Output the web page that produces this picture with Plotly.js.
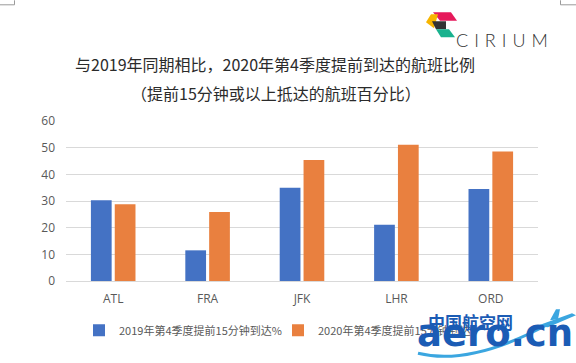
<!DOCTYPE html>
<html>
<head>
<meta charset="utf-8">
<script src="https://cdn.plot.ly/plotly-3.0.1.min.js"></script>
<style>html,body{margin:0;padding:0;background:#fff;}#chart{width:576px;height:363px;}</style>
</head>
<body>
<div id="chart"></div>
<script>
// ---- data ----
const airports = ['ATL', 'FRA', 'JFK', 'LHR', 'ORD'];
const series2019Name = '2019年第4季度提前15分钟到达%';
const series2020Name = '2020年第4季度提前15分钟到达%';
const early2019 = [30.3, 11.5, 35.0, 21.1, 34.5];
const early2020 = [28.8, 25.9, 45.4, 51.1, 48.6];
const yTicks = [0, 10, 20, 30, 40, 50, 60];
const titleLine1 = '与2019年同期相比，2020年第4季度提前到达的航班比例';
const titleLine2 = '（提前15分钟或以上抵达的航班百分比）';

// ---- layout helpers (pixel -> plot-fraction) ----
const W = 576, H = 363;
const L = 66, R = 538, T = 120.7, B = 280.7;
const X = px => (px - L) / (R - L);
const Y = py => (B - py) / (B - T);
function path(pts) {
  return 'M' + pts.map(p => X(p[0]).toFixed(5) + ',' + Y(p[1]).toFixed(5)).join(' L') + ' Z';
}

const traces = [
  {type: 'bar', name: series2019Name, x: airports, y: early2019,
   marker: {color: '#4472C4'}, hoverinfo: 'x+y'},
  {type: 'bar', name: series2020Name, x: airports, y: early2020,
   marker: {color: '#E9803F'}, hoverinfo: 'x+y'}
];

const cjk = '"Noto Sans CJK SC", "Noto Sans", sans-serif';
const shapes = [
  // crop marks
  {type: 'line', xref: 'paper', yref: 'paper', x0: X(0), x1: X(14.5), y0: Y(4.5), y1: Y(4.5), line: {color: '#9a9a9a', width: 1}},
  {type: 'line', xref: 'paper', yref: 'paper', x0: X(14.5), x1: X(14.5), y0: Y(0), y1: Y(4.5), line: {color: '#9a9a9a', width: 1}},
  {type: 'line', xref: 'paper', yref: 'paper', x0: X(560.5), x1: X(576), y0: Y(4.5), y1: Y(4.5), line: {color: '#9a9a9a', width: 1}},
  {type: 'line', xref: 'paper', yref: 'paper', x0: X(560.5), x1: X(560.5), y0: Y(0), y1: Y(4.5), line: {color: '#9a9a9a', width: 1}},
  // Cirium logo
  {type: 'path', xref: 'paper', yref: 'paper', path: path([[433,12],[451,12],[457,20.5],[440,20.5]]), fillcolor: '#E6195B', line: {width: 0}},
  {type: 'path', xref: 'paper', yref: 'paper', path: path([[431,14],[438,14],[434,28],[426,22]]), fillcolor: '#F7B500', line: {width: 0}},
  {type: 'path', xref: 'paper', yref: 'paper', path: path([[432,21],[446,21],[446,29],[436,29]]), fillcolor: '#333333', line: {width: 0}},
  {type: 'path', xref: 'paper', yref: 'paper', path: path([[436,29],[449,29],[455,37],[441,37]]), fillcolor: '#19B28E', line: {width: 0}},
  // watermark swoosh
  {type: 'path', xref: 'paper', yref: 'paper',
   path: 'M' + X(418) + ',' + Y(353) + ' Q' + X(470) + ',' + Y(366) + ' ' + X(548) + ',' + Y(324),
   line: {color: '#3BA6E0', width: 3}},
  {type: 'path', xref: 'paper', yref: 'paper', path: path([[536,326],[572,313],[576,315],[548,327]]), fillcolor: '#3BA6E0', line: {width: 0}},
  {type: 'path', xref: 'paper', yref: 'paper', path: path([[550,320],[556,309],[560,309],[558,319]]), fillcolor: '#3BA6E0', line: {width: 0}}
];

const annotations = [
  {xref: 'paper', yref: 'paper', x: X(276), y: Y(93), xanchor: 'center', yanchor: 'middle', showarrow: false,
   text: titleLine2, font: {family: cjk, size: 16, color: '#2b2b2b'}},
  {xref: 'paper', yref: 'paper', x: X(501.5), y: Y(39.5), xanchor: 'center', yanchor: 'middle', showarrow: false,
   text: 'C\u2004I\u2004R\u2004I\u2004U\u2004M', font: {family: 'Lato, "Open Sans", sans-serif', size: 18, color: '#333333', weight: 300}},
  {xref: 'paper', yref: 'paper', x: X(470), y: Y(321), xanchor: 'center', yanchor: 'middle', showarrow: false,
   text: '中国航空网', font: {family: cjk, size: 17, color: '#1B5CB5', weight: 'bold'}},
  {xref: 'paper', yref: 'paper', x: X(495), y: Y(333), xanchor: 'center', yanchor: 'middle', showarrow: false,
   text: 'aero.cn', font: {family: '"DejaVu Sans", sans-serif', size: 37, color: '#1B5CB5', weight: 'bold'}}
];

const layout = {
  width: W, height: H,
  margin: {l: L, r: W - R, t: T, b: H - B, pad: 0},
  paper_bgcolor: '#ffffff', plot_bgcolor: '#ffffff',
  title: {text: titleLine1, x: X(275), xanchor: 'center', xref: 'paper', yref: 'container',
          y: 1 - 65 / H, yanchor: 'middle',
          font: {family: cjk, size: 16, color: '#2b2b2b'}},
  barmode: 'group', bargap: 0.495, bargroupgap: 0.13,
  xaxis: {type: 'category', showgrid: false, zeroline: false, showline: false, ticks: '',
          tickfont: {family: '"Open Sans", sans-serif', size: 12, color: '#595959'}, ticklabelstandoff: 9,
          fixedrange: true},
  yaxis: {range: [0, 60], tickvals: yTicks, ticktext: yTicks.map(String), showgrid: true, gridcolor: '#D9D9D9', gridwidth: 1,
          zeroline: true, zerolinecolor: '#D9D9D9', zerolinewidth: 1, showline: false, ticks: '',
          tickfont: {family: '"Open Sans", sans-serif', size: 12, color: '#595959'}, ticklabelstandoff: 10,
          fixedrange: true},
  showlegend: true,
  legend: {orientation: 'h', xref: 'paper', yref: 'paper', x: X(79), xanchor: 'left', y: Y(330), yanchor: 'middle',
           entrywidth: 154, entrywidthmode: 'pixels', bgcolor: 'rgba(0,0,0,0)',
           font: {family: cjk, size: 11, color: '#595959'}, traceorder: 'normal'},
  shapes: shapes,
  annotations: annotations,
  hovermode: false
};

Plotly.newPlot('chart', traces, layout, {displayModeBar: false, staticPlot: true});
</script>
</body>
</html>
